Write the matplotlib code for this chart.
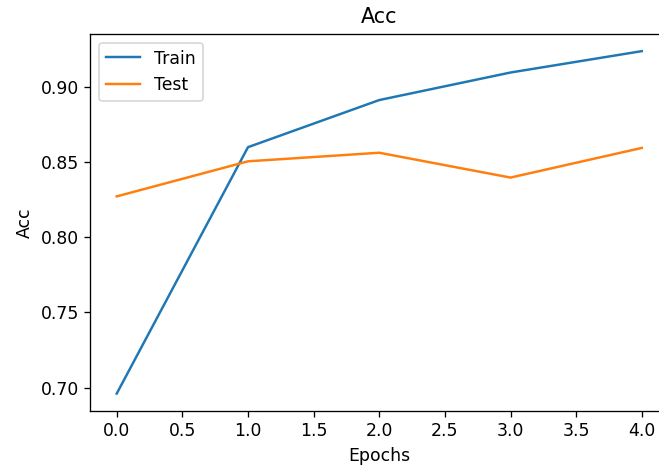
import matplotlib
matplotlib.use("Agg")
import matplotlib.pyplot as plt
from matplotlib.ticker import MultipleLocator, FormatStrFormatter

epochs = [0, 1, 2, 3, 4]
train_acc = [0.696, 0.8597, 0.8910, 0.9093, 0.9235]
test_acc = [0.827, 0.8503, 0.8560, 0.8395, 0.8592]

plt.rcParams["font.size"] = 10.5
dpi = 118
fig = plt.figure(figsize=(659 / dpi, 466 / dpi), dpi=dpi)
ax = fig.add_axes([0.1373, 0.1187, 0.8764, 0.8083])
ax.plot(epochs, train_acc, label="Train")
ax.plot(epochs, test_acc, label="Test")
ax.set_title("Acc", pad=7)
ax.set_xlabel("Epochs")
ax.set_ylabel("Acc")
ax.xaxis.set_major_locator(MultipleLocator(0.5))
ax.xaxis.set_major_formatter(FormatStrFormatter("%.1f"))
ax.legend(loc="upper left")
fig.savefig("out.png", dpi=dpi)
